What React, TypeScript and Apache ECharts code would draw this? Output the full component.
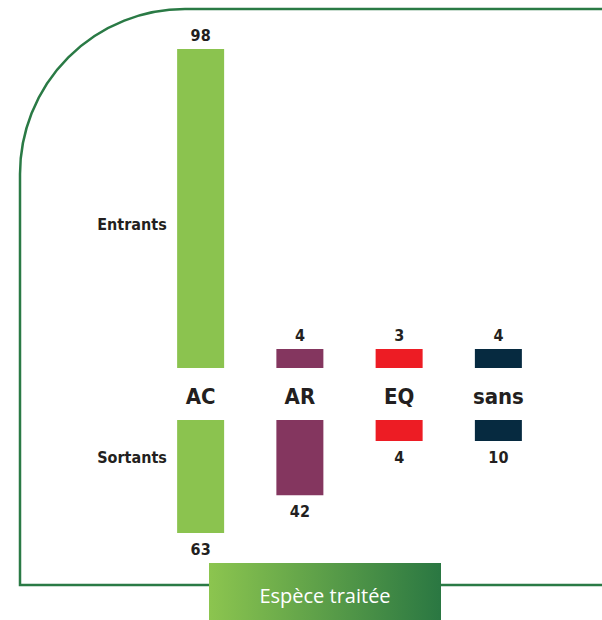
import React, { useEffect, useRef } from "react";
import * as echarts from "echarts";

const categories = ["AC", "AR", "EQ", "sans"];
const entrants = [98, 4, 3, 4];
const sortants = [63, 42, 4, 10];
const seriesNames = ["Entrants", "Sortants"];
const barColors = ["#8bc34f", "#84365f", "#ed1c24", "#062a40"];
const axisTitle = "Espèce traitée";

const condensed = '"Liberation Sans Narrow", "DejaVu Sans Condensed", "Roboto", sans-serif';
const textColor = "#231f20";
const borderGreen = "#2a7a45";

export default function App() {
  const ref = useRef<HTMLDivElement>(null);
  useEffect(() => {
    if (!ref.current) return;
    const chart = echarts.init(ref.current, undefined, { renderer: "svg" });
    const colorFn = (p: any) => barColors[p.dataIndex % barColors.length];
    chart.setOption({
      animation: false,
      backgroundColor: "#ffffff",
      grid: [
        { left: 151, width: 397, top: 49, height: 319 },
        { left: 151, width: 397, top: 420, height: 113 },
      ],
      xAxis: [
        { gridIndex: 0, type: "category", data: categories, show: false },
        {
          gridIndex: 1,
          type: "category",
          data: categories,
          position: "top",
          axisLine: { show: false },
          axisTick: { show: false },
          axisLabel: {
            fontSize: 22,
            fontWeight: "bold",
            color: textColor,
            fontFamily: condensed,
            margin: 13,
          },
        },
      ],
      yAxis: [
        { gridIndex: 0, type: "value", min: 0, max: 98, show: false },
        { gridIndex: 1, type: "value", min: 0, max: 63, inverse: true, show: false },
      ],
      series: [
        {
          name: seriesNames[0],
          type: "bar",
          xAxisIndex: 0,
          yAxisIndex: 0,
          data: entrants,
          barWidth: 47,
          barMinHeight: 19,
          itemStyle: { color: colorFn },
          label: {
            show: true,
            position: "top",
            distance: 6,
            fontSize: 16,
            fontWeight: "bold",
            color: textColor,
            fontFamily: condensed,
          },
        },
        {
          name: seriesNames[1],
          type: "bar",
          xAxisIndex: 1,
          yAxisIndex: 1,
          data: sortants,
          barWidth: 47,
          barMinHeight: 21,
          itemStyle: { color: colorFn },
          label: {
            show: true,
            position: "bottom",
            distance: 8,
            fontSize: 16,
            fontWeight: "bold",
            color: textColor,
            fontFamily: condensed,
          },
        },
      ],
      graphic: [
        {
          type: "rect",
          z: -1,
          shape: { x: 20, y: 9, width: 640, height: 576, r: [165, 0, 0, 0] },
          style: { fill: "none", stroke: borderGreen, lineWidth: 2.5 },
        },
        {
          type: "text",
          x: 132,
          y: 224,
          style: {
            text: seriesNames[0],
            fontSize: 16,
            fontWeight: "bold",
            fill: textColor,
            fontFamily: condensed,
            align: "center",
            verticalAlign: "middle",
          },
        },
        {
          type: "text",
          x: 132,
          y: 457,
          style: {
            text: seriesNames[1],
            fontSize: 16,
            fontWeight: "bold",
            fill: textColor,
            fontFamily: condensed,
            align: "center",
            verticalAlign: "middle",
          },
        },
        {
          type: "rect",
          shape: { x: 209, y: 563, width: 232, height: 57 },
          style: {
            fill: new echarts.graphic.LinearGradient(0, 0, 1, 0, [
              { offset: 0, color: "#8cc54f" },
              { offset: 1, color: "#2a7742" },
            ]),
          },
        },
        {
          type: "text",
          x: 325,
          y: 595,
          style: {
            text: axisTitle,
            fontSize: 20,
            fill: "#ffffff",
            fontFamily: '"Open Sans", sans-serif',
            align: "center",
            verticalAlign: "middle",
          },
        },
      ],
    });
    return () => chart.dispose();
  }, []);
  return (
    <div
      ref={ref}
      style={{ position: "fixed", left: 0, top: 0, width: 602, height: 620 }}
    />
  );
}
